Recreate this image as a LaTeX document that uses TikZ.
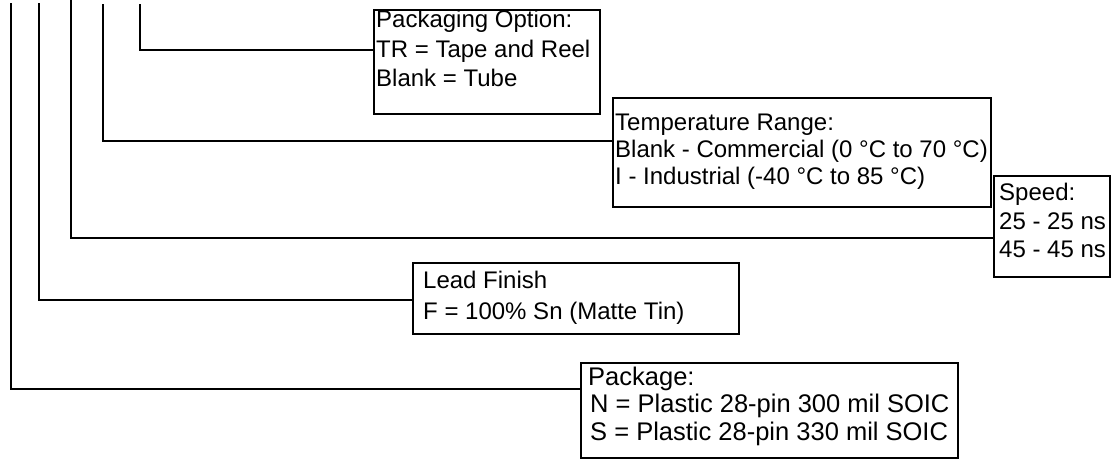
\documentclass[tikz,border=0pt]{standalone}
\usepackage{fontspec}
\setmainfont{Liberation Sans}
\usepackage{tikz}
\usetikzlibrary{positioning}

\begin{document}
\begin{tikzpicture}[
    x=1pt, y=-1pt,
    every node/.style={font=\fontsize{24}{28}\selectfont},
    box/.style={draw, line width=1.8pt, anchor=north west, inner sep=0pt},
    txt/.style={anchor=north west, inner sep=0pt, align=left, font=\fontsize{24}{#1}\selectfont},
    txt/.default=28,
    line/.style={line width=2pt}
]
\useasboundingbox (0,0) rectangle (1116,459);

% option boxes
\node[box, minimum width=226pt, minimum height=104pt] (PO) at (373,9) {};
\node[txt=29.5] (POt) at (376,10) {Packaging Option:\\TR = Tape and Reel\\Blank = Tube};

\node[box, minimum width=378pt, minimum height=109pt] (TR) at (612,97) {};
\node[txt=27] (TRt) at (615,114) {Temperature Range:\\Blank - Commercial (0 °C to 70 °C)\\I - Industrial (-40 °C to 85 °C)};

\node[box, minimum width=116pt, minimum height=101pt] (SP) at (993,175) {};
\node[txt=28.5] (SPt) at (999,183) {Speed:\\25 - 25 ns\\45 - 45 ns};

\node[box, minimum width=326pt, minimum height=71pt] (LF) at (412,262) {};
\node[txt=31] (LFt) at (423,271) {Lead Finish\\F = 100\% Sn (Matte Tin)};

\node[box, minimum width=377pt, minimum height=95pt] (PK) at (580,362) {};
\node[txt, font=\fontsize{25.5}{27.5}\selectfont] (PKt) at (588,366.5) {Package:\\\hspace{2pt}N = Plastic 28-pin 300 mil SOIC\\\hspace{2pt}S = Plastic 28-pin 330 mil SOIC};

% leads from the part number
\coordinate (POtop) at (140,4);
\coordinate (TRtop) at (103,4);
\coordinate (SPtop) at (71,0);
\coordinate (LFtop) at (39,3);
\coordinate (PKtop) at (11,3);

\draw[line] (POtop) |- ([yshift=12pt]PO.west);
\draw[line] (TRtop) |- ([yshift=11.5pt]TR.west);
\draw[line] (SPtop) |- ([yshift=-11.5pt]SP.west);
\draw[line] (LFtop) |- ([yshift=-1.5pt]LF.west);
\draw[line] (PKtop) |- ([yshift=21.5pt]PK.west);
\end{tikzpicture}
\end{document}
